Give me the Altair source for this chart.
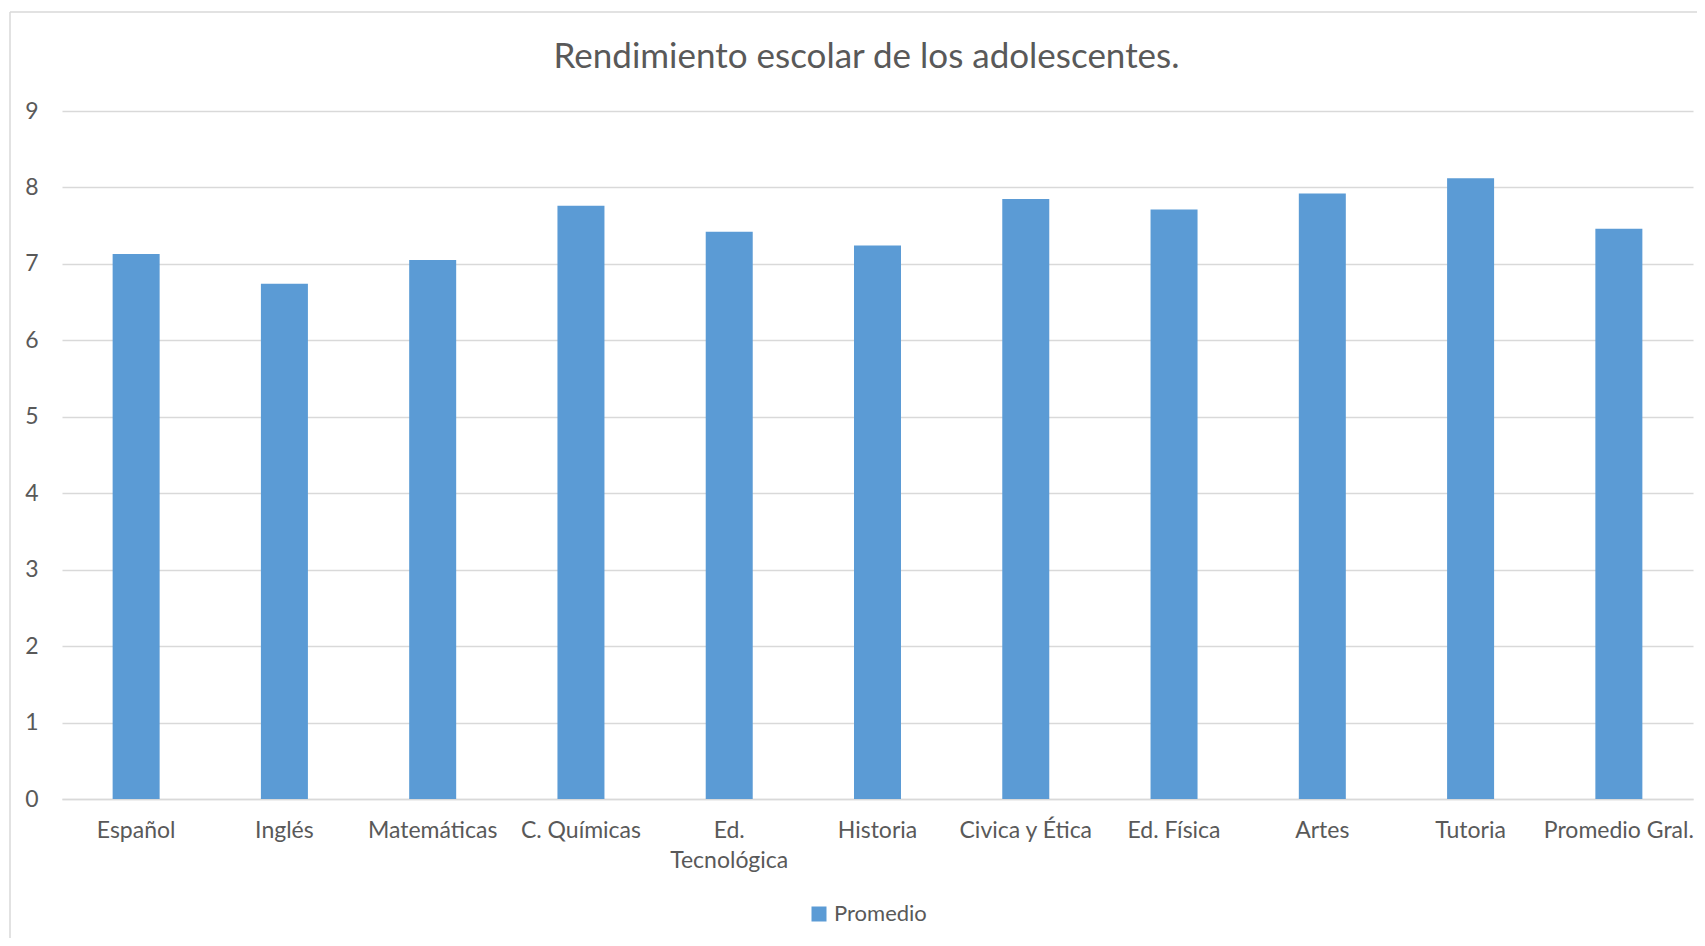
import altair as alt
import pandas as pd

categories = ["Español", "Inglés", "Matemáticas", "C. Químicas", "Ed. Tecnológica",
              "Historia", "Civica y Ética", "Ed. Física", "Artes", "Tutoria", "Promedio Gral."]
values = [7.13, 6.74, 7.05, 7.76, 7.42, 7.24, 7.85, 7.71, 7.92, 8.12, 7.46]
series = "Promedio"
chart_title = "Rendimiento escolar de los adolescentes."
y_ticks = list(range(0, 10))

df = pd.DataFrame({"Materia": categories, "Valor": values, "Serie": series})

W, H = 1631, 688
FONT = "Lato"
GREY = "#595959"
LINE = "#d9d9d9"
BLUE = "#5b9bd5"

bars = alt.Chart(df).mark_bar().encode(
    x=alt.X("Materia:N", sort=categories,
            scale=alt.Scale(paddingInner=0.683, paddingOuter=0.3415),
            axis=alt.Axis(title=None, labelAngle=0, ticks=False, domain=True,
                          domainColor=LINE, domainWidth=1.5, labelPadding=20,
                          labelFontSize=23, labelColor=GREY, labelFont=FONT,
                          labelLineHeight=30, labelLimit=0, labelOverlap=False,
                          labelExpr="datum.label == 'Ed. Tecnológica' ? ['Ed.', 'Tecnológica'] : datum.label",
                          grid=False)),
    y=alt.Y("Valor:Q", scale=alt.Scale(domain=[0, 9], nice=False),
            axis=alt.Axis(title=None, values=y_ticks, ticks=False, domain=False,
                          grid=True, gridColor=LINE, gridWidth=1.5, labelPadding=24,
                          labelFontSize=23, labelColor=GREY, labelFont=FONT)),
    color=alt.Color("Serie:N", scale=alt.Scale(range=[BLUE]),
                    legend=alt.Legend(title=None, orient="none", legendX=746, legendY=792,
                                      symbolType="square", symbolSize=225,
                                      symbolStrokeWidth=0, labelFontSize=22,
                                      labelFont=FONT, labelColor=GREY, labelOffset=4,
                                      padding=0)),
)

frame_df = pd.DataFrame({"k": [0]})
left_border = alt.Chart(frame_df).mark_rule(color=LINE, strokeWidth=1.5).encode(
    x=alt.value(-52), y=alt.value(-99), y2=alt.value(H + 160))
top_border = alt.Chart(frame_df).mark_rule(color=LINE, strokeWidth=1.5).encode(
    x=alt.value(-52), x2=alt.value(W + 40), y=alt.value(-99))

chart = alt.layer(left_border, top_border, bars).properties(
    width=W, height=H,
    autosize=alt.AutoSizeParams(type="none"),
    padding={"left": 54, "top": 103, "right": 4, "bottom": 139},
    title=alt.Title(chart_title, fontSize=35, font=FONT, color=GREY,
                    fontWeight="normal", offset=0, dy=64, dx=-11, anchor="middle"),
    background="white",
).configure_view(stroke=None)

chart.save("out.html", embed_options={"renderer": "svg", "actions": False})
